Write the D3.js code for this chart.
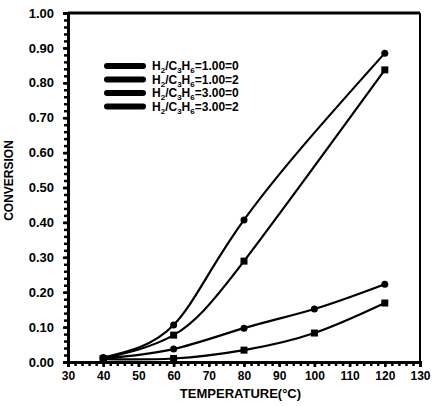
<!DOCTYPE html>
<html>
<head>
<meta charset="utf-8">
<script src="https://cdn.jsdelivr.net/npm/d3@7"></script>
<style>
  body { margin: 0; background: #fff; }
  text { font-family: "Liberation Sans", Arial, sans-serif; font-weight: bold; fill: #000; }
</style>
</head>
<body>
<div id="chart-area"></div>
<script>
// chart data
var temps = [40, 60, 80, 100, 120];
var seriesA = [0.013, 0.106, 0.407, null, 0.885];
var seriesB = [0.010, 0.077, 0.289, null, 0.837];
var seriesC = [0.010, 0.037, 0.097, 0.152, 0.223];
var seriesD = [0.008, 0.010, 0.034, 0.083, 0.169];
var legendRatio = ["1.00", "1.00", "3.00", "3.00"];
var legendEnd = ["0", "2", "0", "2"];
var xTicks = [30, 40, 50, 60, 70, 80, 90, 100, 110, 120, 130];
var yTicks = [0, 0.1, 0.2, 0.3, 0.4, 0.5, 0.6, 0.7, 0.8, 0.9, 1.0];

var margin = {top: 13, right: 12, bottom: 44, left: 68};
var width = 432 - margin.left - margin.right,
    height = 406 - margin.top - margin.bottom;

var svg = d3.select("#chart-area").append("svg")
    .attr("width", 432)
    .attr("height", 406)
  .append("g")
    .attr("transform", "translate(" + margin.left + "," + margin.top + ")");

var x = d3.scaleLinear().domain([30, 130]).range([0, width]);
var y = d3.scaleLinear().domain([0, 1]).range([height, 0]);

// minor ticks every 2 units / 0.02
svg.append("g")
    .attr("transform", "translate(0," + height + ")")
    .call(d3.axisBottom(x).ticks(50).tickSize(4).tickFormat(""))
    .call(function(g) { g.select(".domain").remove(); g.selectAll("line").attr("stroke-width", 2.5); });

svg.append("g")
    .call(d3.axisLeft(y).ticks(50).tickSize(4).tickFormat(""))
    .call(function(g) { g.select(".domain").remove(); g.selectAll("line").attr("stroke-width", 2.5); });

var xAxis = svg.append("g")
    .attr("transform", "translate(0," + height + ")")
    .call(d3.axisBottom(x).tickValues(xTicks).tickSize(5).tickPadding(4).tickFormat(d3.format("d")));
xAxis.selectAll("text").attr("font-size", 12).attr("font-family", null);
xAxis.select(".domain").attr("stroke-width", 3);
xAxis.selectAll("line").attr("stroke-width", 2.5);

var yAxis = svg.append("g")
    .call(d3.axisLeft(y).tickValues(yTicks).tickSize(5).tickPadding(9).tickFormat(d3.format(".2f")));
yAxis.selectAll("text").attr("font-size", 13).attr("font-family", null);
yAxis.select(".domain").attr("stroke-width", 3);
yAxis.selectAll("line").attr("stroke-width", 2.5);

// top and right frame
svg.append("line").attr("x1", 0).attr("x2", width).attr("y1", 0).attr("y2", 0)
    .attr("stroke", "#000").attr("stroke-width", 3);
svg.append("line").attr("x1", width).attr("x2", width).attr("y1", 0).attr("y2", height)
    .attr("stroke", "#000").attr("stroke-width", 2);

// axis titles
svg.append("text")
    .attr("x", x(79))
    .attr("y", height + 36)
    .attr("text-anchor", "middle")
    .attr("font-size", 13)
    .text("TEMPERATURE(°C)");

svg.append("text")
    .attr("transform", "translate(" + (-55) + "," + y(0.52) + ") rotate(-90)")
    .attr("text-anchor", "middle")
    .attr("font-size", 12)
    .text("CONVERSION");

var allSeries = [seriesA, seriesB, seriesC, seriesD];
var markers = ["circle", "square", "circle", "square"];

var line = d3.line()
    .x(function(d) { return x(d.t); })
    .y(function(d) { return y(d.v); })
    .curve(d3.curveNatural);

allSeries.forEach(function(s, i) {
    var pts = temps.map(function(t, j) { return {t: t, v: s[j]}; })
        .filter(function(d) { return d.v != null; });

    svg.append("path")
        .datum(pts)
        .attr("fill", "none")
        .attr("stroke", "#000")
        .attr("stroke-width", 2.2)
        .attr("d", line);

    if (markers[i] === "circle") {
        svg.selectAll(".m" + i).data(pts).enter().append("circle")
            .attr("class", "m" + i)
            .attr("cx", function(d) { return x(d.t); })
            .attr("cy", function(d) { return y(d.v); })
            .attr("r", 3.5);
    } else {
        svg.selectAll(".m" + i).data(pts).enter().append("rect")
            .attr("class", "m" + i)
            .attr("x", function(d) { return x(d.t) - 3.5; })
            .attr("y", function(d) { return y(d.v) - 3.5; })
            .attr("width", 7)
            .attr("height", 7);
    }
});

// legend
var legend = svg.selectAll(".legend")
    .data(legendRatio)
    .enter().append("g")
    .attr("class", "legend")
    .attr("transform", function(d, i) { return "translate(0," + (y(0.848) + i * 13.5) + ")"; });

legend.append("line")
    .attr("x1", 39).attr("x2", 75)
    .attr("stroke", "#000")
    .attr("stroke-width", 6)
    .attr("stroke-linecap", "round");

var lt = legend.append("text")
    .attr("x", 84)
    .attr("y", 4)
    .attr("font-size", 12);
lt.append("tspan").text("H");
lt.append("tspan").attr("font-size", 8).attr("dy", 3).text("2");
lt.append("tspan").attr("dy", -3).text("/C");
lt.append("tspan").attr("font-size", 8).attr("dy", 3).text("3");
lt.append("tspan").attr("dy", -3).text("H");
lt.append("tspan").attr("font-size", 8).attr("dy", 3).text("6");
lt.append("tspan").attr("dy", -3).text(function(d, i) { return "=" + d + "=" + legendEnd[i]; });
</script>
</body>
</html>
